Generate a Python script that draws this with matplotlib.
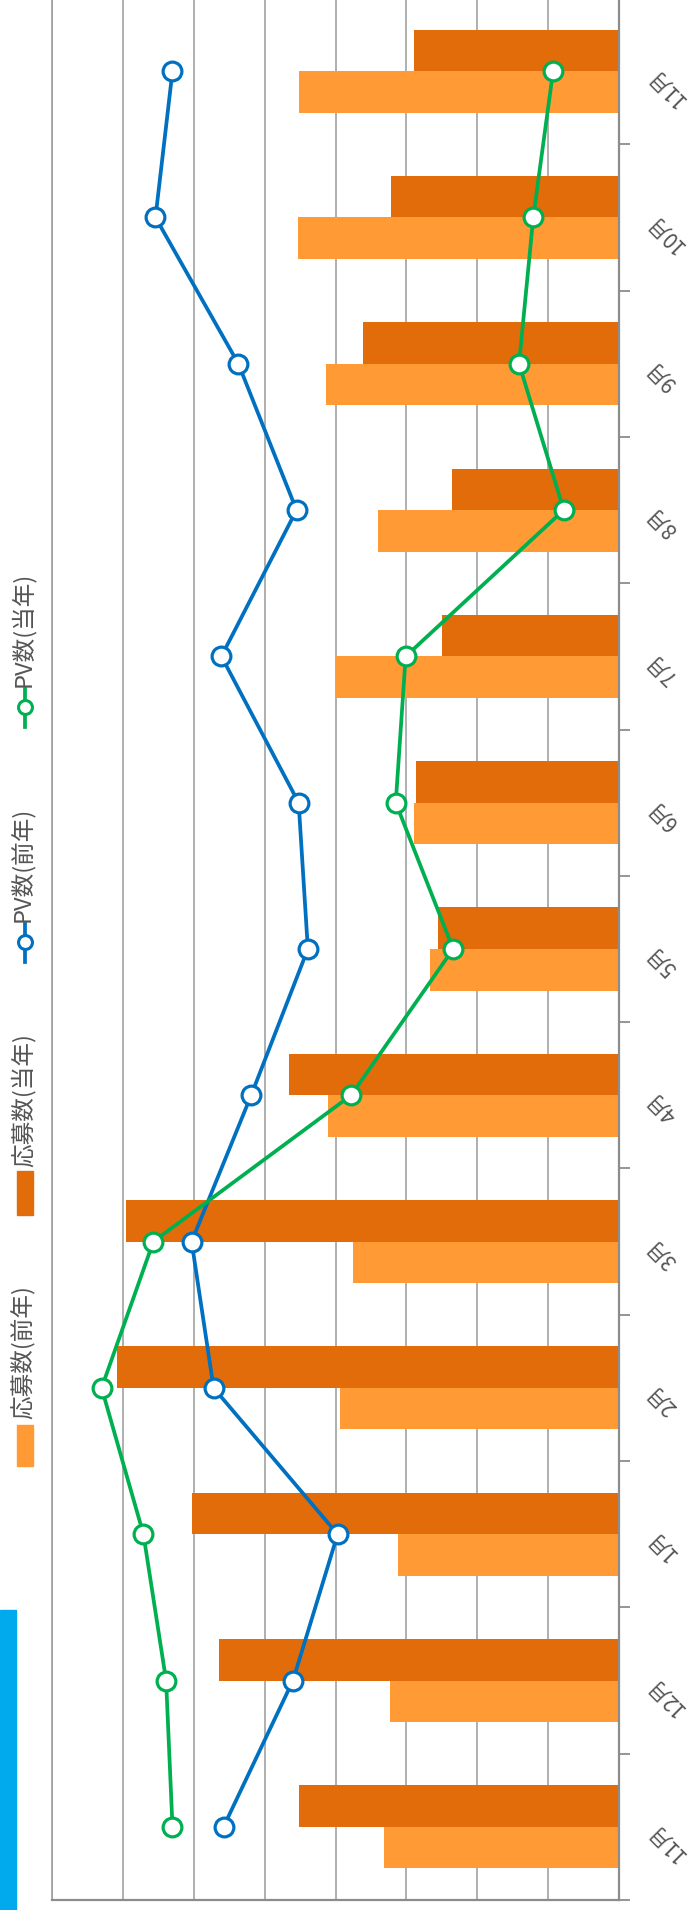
import numpy as np
import matplotlib as mpl
mpl.use('Agg')
import matplotlib.pyplot as plt
from matplotlib.patches import Rectangle
from matplotlib.lines import Line2D

plt.rcParams['font.family'] = ['Noto Sans CJK JP', 'DejaVu Sans']

# data, bottom (oldest) to top
months = ['11月', '12月', '1月', '2月', '3月', '4月', '5月', '6月', '7月', '8月', '9月', '10月', '11月']
apply_prev = [332, 323, 312, 393, 375, 411, 267, 289, 399, 340, 414, 453, 451]
apply_cur = [451, 565, 603, 708, 695, 466, 255, 287, 250, 235, 361, 322, 289]
pv_prev = [5580, 4600, 3970, 5720, 6030, 5190, 4390, 4520, 5610, 4550, 5370, 6540, 6300]
pv_cur = [6300, 6390, 6710, 7300, 6570, 3780, 2340, 3150, 3010, 780, 1410, 1210, 930]

W, H = 689, 1910
C_PREV = '#FF9A35'
C_CUR = '#E36C0A'
C_BLUE = '#0070C0'
C_GREEN = '#00B050'
C_GRID = '#9A9A9A'
C_TEXT = '#555555'

fig = plt.figure(figsize=(W/100, H/100), dpi=100)
ax = fig.add_axes([52/W, 10/H, (619-52)/W, 1902/H])

y = np.arange(len(months))
bh = 0.284
ax.barh(y - bh/2, apply_prev, height=bh, color=C_PREV, zorder=2)
ax.barh(y + bh/2, apply_cur, height=bh, color=C_CUR, zorder=2)
ax.set_xlim(800, 0)
ax.set_ylim(-0.5, len(months) - 0.5)
ax.set_xticks(np.arange(0, 801, 100))
ax.xaxis.grid(True, color=C_GRID, lw=1.1, zorder=0)
ax.set_axisbelow(True)
ax.tick_params(axis='x', length=0, labelbottom=False)

ax.yaxis.set_ticks_position('right')
ax.set_yticks(y)
ax.set_yticklabels([])
ax.set_yticks(np.arange(-0.5, len(months)), minor=True)
ax.tick_params(axis='y', which='major', length=0)
ax.tick_params(axis='y', which='minor', length=8, width=1.3, color='#8C8C8C')

for s in ['right', 'bottom']:
    ax.spines[s].set_color('#8C8C8C')
    ax.spines[s].set_linewidth(1.6)
ax.spines['left'].set_color(C_GRID)
ax.spines['left'].set_linewidth(1.1)
ax.spines['top'].set_visible(False)

tr = ax.get_yaxis_transform()
for i, m in enumerate(months):
    ax.text(1.056, i, m, transform=tr, rotation=135, rotation_mode='anchor',
            ha='right', va='center', fontsize=15, color=C_TEXT)

# secondary axis for PV
ax2 = ax.twiny()
ax2.set_xlim(8000, 0)
ax2.axis('off')
mk = dict(marker='o', markersize=13.5, markerfacecolor='white', markeredgewidth=2.3, lw=2.7)
ax2.plot(pv_prev, y, color=C_BLUE, markeredgecolor=C_BLUE, **mk)
ax2.plot(pv_cur, y, color=C_GREEN, markeredgecolor=C_GREEN, **mk)

# legend drawn by hand (rotated)
def fy(py):
    return 1 - py / H

FS = 17
fig.patches.append(Rectangle((17/W, fy(1466)), 16/W, 41/H, transform=fig.transFigure, color=C_PREV))
fig.text(23/W, fy(1419), '応募数(前年)', rotation=90, ha='center', va='bottom', fontsize=FS, color=C_TEXT)
fig.patches.append(Rectangle((17/W, fy(1215)), 16/W, 44/H, transform=fig.transFigure, color=C_CUR))
fig.text(23/W, fy(1167), '応募数(当年)', rotation=90, ha='center', va='bottom', fontsize=FS, color=C_TEXT)

for cy, col, lab in [(942, C_BLUE, 'PV数(前年)'), (707, C_GREEN, 'PV数(当年)')]:
    fig.lines.append(Line2D([25/W, 25/W], [fy(cy+20), fy(cy-18)], transform=fig.transFigure,
                            color=col, lw=2.7))
    fig.lines.append(Line2D([25/W], [fy(cy)], transform=fig.transFigure, marker='o', markersize=10,
                            markerfacecolor='white', markeredgecolor=col, markeredgewidth=2.2))
    fig.text(23/W, fy(cy-20), lab, rotation=90, ha='center', va='bottom', fontsize=FS, color=C_TEXT)

# title banner, cut off at the edge
fig.patches.append(Rectangle((0, 0), 16/W, 300/H, transform=fig.transFigure, color='#00AAEC'))

fig.savefig('out.png', dpi=100)
